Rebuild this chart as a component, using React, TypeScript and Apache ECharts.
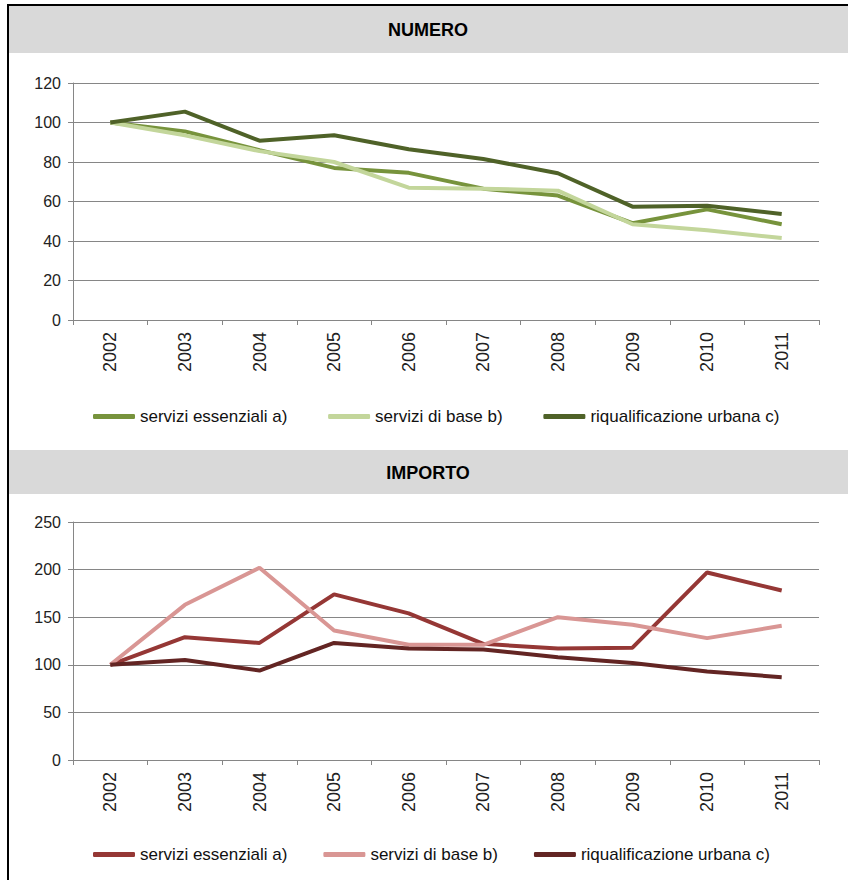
import React, { useEffect, useRef } from "react";
import * as echarts from "echarts";

const years = ["2002", "2003", "2004", "2005", "2006", "2007", "2008", "2009", "2010", "2011"];
const seriesNames = ["servizi essenziali a)", "servizi di base b)", "riqualificazione urbana c)"];

// NUMERO (index 2002 = 100)
const numEssenziali = [100, 95.5, 86, 77, 74.5, 66.5, 63, 49, 56, 48.5];
const numBase = [100, 93.5, 85.5, 80, 67, 66.5, 65.5, 48.5, 45.5, 41.5];
const numRiqualificazione = [100, 105.5, 90.8, 93.5, 86.5, 81.5, 74.3, 57.4, 57.8, 53.7];

// IMPORTO (index 2002 = 100)
const impEssenziali = [100, 129, 123, 174, 154, 122, 117, 118, 197, 178];
const impBase = [100, 163, 202, 136, 121, 121, 150, 142, 128, 141];
const impRiqualificazione = [100, 105, 94, 123, 117, 116, 108, 102, 93, 87];

const numTicks = { min: 0, max: 120, interval: 20 };
const impTicks = { min: 0, max: 250, interval: 50 };

const greens = ["#77933C", "#C3D69B", "#4F6228"];
const reds = ["#953735", "#D99694", "#632523"];

const regular = "'Liberation Sans', Arial, sans-serif";

export default function App() {
  const ref = useRef<HTMLDivElement>(null);

  useEffect(() => {
    if (!ref.current) return;
    const chart = echarts.init(ref.current, undefined, { renderer: "svg" });

    const axisGray = "#868686";

    const xAxisBase = (gridIndex: number) => ({
      type: "category",
      gridIndex,
      data: years,
      boundaryGap: true,
      axisLine: { show: true, lineStyle: { color: axisGray, width: 1 } },
      axisTick: { show: true, length: 5, lineStyle: { color: axisGray } },
      axisLabel: {
        rotate: 90,
        margin: 12,
        color: "#222",
        fontFamily: regular,
        fontSize: 18,
      },
      splitLine: { show: false },
    });

    const yAxisBase = (gridIndex: number, t: { min: number; max: number; interval: number }) => ({
      type: "value",
      gridIndex,
      min: t.min,
      max: t.max,
      interval: t.interval,
      axisLine: { show: true, lineStyle: { color: axisGray, width: 1 } },
      axisTick: { show: true, length: 5, lineStyle: { color: axisGray } },
      axisLabel: {
        margin: 12,
        color: "#222",
        fontFamily: regular,
        fontSize: 16,
      },
      splitLine: { show: true, lineStyle: { color: axisGray, width: 1.2 } },
    });

    const lineSeries = (name: string, data: number[], color: string, idx: number) => ({
      type: "line",
      name,
      data,
      xAxisIndex: idx,
      yAxisIndex: idx,
      symbol: "none",
      smooth: false,
      lineStyle: { color, width: 4 },
      itemStyle: { color },
      z: 3,
    });

    const legendBase = (top: number, names: string[]) => ({
      top,
      left: 88,
      width: 760,
      orient: "horizontal",
      icon: "roundRect",
      itemWidth: 42,
      itemHeight: 5,
      itemGap: 36,
      itemTextGap: 2,
      textStyle: { fontFamily: regular, fontSize: 17, color: "#111" },
      data: names,
    });

    const topNames = seriesNames.map((n) => n + " ");

    chart.setOption({
      animation: false,
      backgroundColor: "#ffffff",
      grid: [
        { left: 73, top: 83, width: 746, height: 237, containLabel: false },
        { left: 73, top: 522, width: 746, height: 238, containLabel: false },
      ],
      xAxis: [xAxisBase(0), xAxisBase(1)],
      yAxis: [yAxisBase(0, numTicks), yAxisBase(1, impTicks)],
      legend: [legendBase(403, topNames), legendBase(841, seriesNames)],
      series: [
        lineSeries(topNames[0], numEssenziali, greens[0], 0),
        lineSeries(topNames[1], numBase, greens[1], 0),
        lineSeries(topNames[2], numRiqualificazione, greens[2], 0),
        lineSeries(seriesNames[0], impEssenziali, reds[0], 1),
        lineSeries(seriesNames[1], impBase, reds[1], 1),
        lineSeries(seriesNames[2], impRiqualificazione, reds[2], 1),
      ],
      graphic: [
        { type: "rect", shape: { x: 9, y: 5, width: 839, height: 48 }, style: { fill: "#d9d9d9" }, silent: true, z: -1 },
        { type: "rect", shape: { x: 9, y: 450, width: 839, height: 44 }, style: { fill: "#d9d9d9" }, silent: true, z: -1 },
        {
          type: "text",
          x: 428,
          y: 30,
          style: { text: "NUMERO", fill: "#000", font: "bold 18px 'Liberation Sans', Arial, sans-serif", align: "center", verticalAlign: "middle" },
        },
        {
          type: "text",
          x: 428,
          y: 473,
          style: { text: "IMPORTO", fill: "#000", font: "bold 18px 'Liberation Sans', Arial, sans-serif", align: "center", verticalAlign: "middle" },
        },
        { type: "line", shape: { x1: 8, y1: 4, x2: 8, y2: 880 }, style: { stroke: "#000", lineWidth: 2 } },
        { type: "line", shape: { x1: 7, y1: 5, x2: 848, y2: 5 }, style: { stroke: "#000", lineWidth: 2 } },
      ],
    });

    return () => chart.dispose();
  }, []);

  return (
    <div
      ref={ref}
      style={{ position: "absolute", left: 0, top: 0, width: 848, height: 880 }}
    />
  );
}
